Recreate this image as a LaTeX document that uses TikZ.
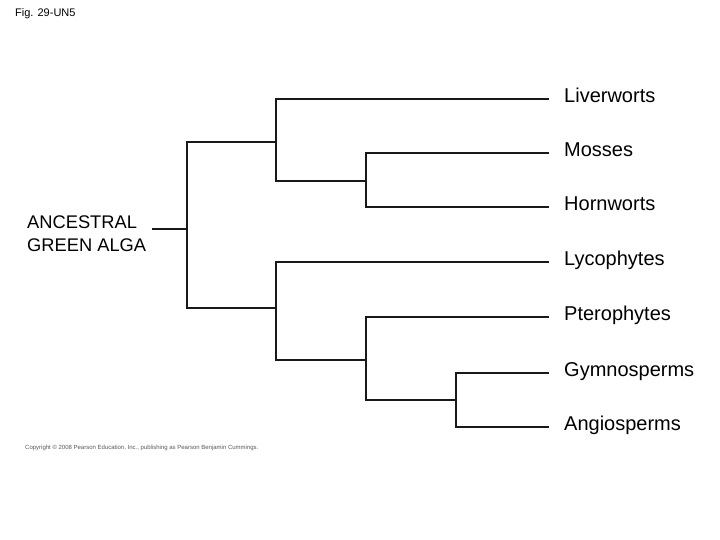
\documentclass[tikz,border=0pt]{standalone}
\usepackage{fontspec}
\setmainfont{Liberation Sans}
\begin{document}
\begin{tikzpicture}[x=1pt,y=-1pt,
  branch/.style={line width=1.7pt,line join=miter,draw=black!90},
  leaf/.style={anchor=west,inner xsep=15pt,inner ysep=0pt,font=\fontsize{20}{22}\selectfont,text height=0.62em,text depth=0pt},
  ancestor/.style={anchor=north west,align=left,inner sep=0pt,font=\fontsize{18.3}{22.5}\selectfont}
]
\useasboundingbox (0,0) rectangle (720,540);
\fill[white] (0,0) rectangle (720,540);
% title and credit
\node[anchor=west,inner sep=0pt,font=\fontsize{11}{12}\selectfont] (title) at (15,14) {Fig. 29-UN5};
\node[anchor=west,inner sep=0pt,font=\fontsize{6}{6.5}\selectfont,text=black!65] (credit) at (25,447.5) {Copyright \textcopyright{} 2008 Pearson Education, Inc., publishing as Pearson Benjamin Cummings.};
% leaves
\node[leaf] (liv) at (549,99) {Liverworts};
\node[leaf] (mos) at (549,153) {Mosses};
\node[leaf] (hor) at (549,207) {Hornworts};
\node[leaf] (lyc) at (549,262) {Lycophytes};
\node[leaf] (pte) at (549,317) {Pterophytes};
\node[leaf] (gym) at (549,373) {Gymnosperms};
\node[leaf] (ang) at (549,427) {Angiosperms};
% ancestor
\node[ancestor] (anc) at (27,216) {ANCESTRAL\\GREEN ALGA};
% internal points
\coordinate (root) at (187,229);
\coordinate (c1) at (276,142);
\coordinate (c2) at (366,181);
\coordinate (c3) at (276,308);
\coordinate (c4) at (366,360);
\coordinate (c5) at (456,400);
% branches
\draw[branch] ([xshift=6pt]anc.east |- root) -- (root);
\draw[branch] (c1) -| (root) |- (c3);
\draw[branch] (liv.west) -| (c1) |- (c2);
\draw[branch] (mos.west) -| (c2) |- (hor.west);
\draw[branch] (lyc.west) -| (c3) |- (c4);
\draw[branch] (pte.west) -| (c4) |- (c5);
\draw[branch] (gym.west) -| (c5) |- (ang.west);
\end{tikzpicture}
\end{document}
